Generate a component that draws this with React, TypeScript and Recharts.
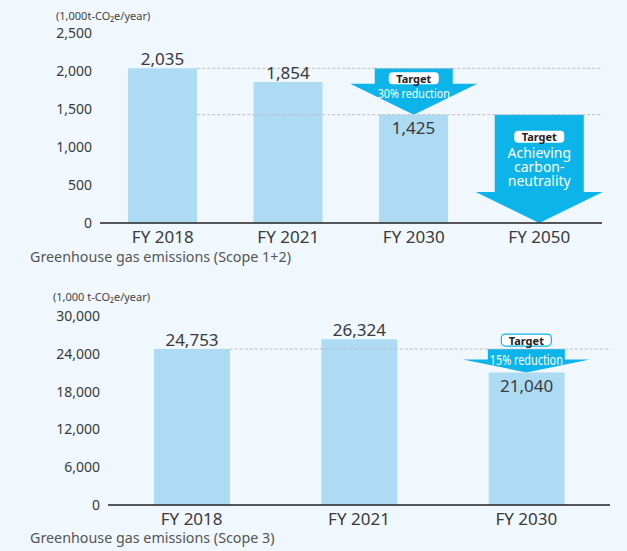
import React from 'react';
import {
  BarChart, Bar, XAxis, YAxis, ReferenceLine, ReferenceArea, LabelList,
} from 'recharts';

const scope12Years = ['FY 2018', 'FY 2021', 'FY 2030', 'FY 2050'];
const scope12Values: (number | null)[] = [2035, 1854, 1425, null];
const scope12Ticks = [0, 500, 1000, 1500, 2000, 2500];

const scope3Years = ['FY 2018', 'FY 2021', 'FY 2030'];
const scope3Values = [24753, 26324, 21040];
const scope3Ticks = [0, 6000, 12000, 18000, 24000, 30000];

const FONT = '"Noto Sans", "Open Sans", sans-serif';
const BG = '#f0f7fd';
const BAR = '#aedbf4';
const ARROW = '#0cb4ea';
const TEXT = '#3a3a3a';

const scope12Data = scope12Years.map((year, i) => ({ year, value: scope12Values[i] }));
const scope3Data = scope3Years.map((year, i) => ({ year, value: scope3Values[i] }));

type ArrowCfg = {
  shaftWidth: number;
  headWidth: number;
  headHeight: number;
  pillDy: number;
  pillOutline?: boolean;
  lines: string[];
  textDy: number;
  lineGap: number;
  fontSize: number;
  textWidth?: number;
};

const TargetArrow = ({ x, y, width, height, cfg }: any) => {
  const c: ArrowCfg = cfg;
  const cx = x + width / 2;
  const bottom = y + height;
  const headTop = bottom - c.headHeight;
  const sw = c.shaftWidth / 2;
  const hw = c.headWidth / 2;
  const pts = [
    [cx - sw, y], [cx + sw, y], [cx + sw, headTop], [cx + hw, headTop],
    [cx, bottom], [cx - hw, headTop], [cx - sw, headTop],
  ].map(p => p.join(',')).join(' ');
  return (
    <g>
      <polygon points={pts} fill={ARROW} />
      <rect
        x={cx - 25} y={y + c.pillDy - 6} width={50} height={12} rx={4}
        fill="#fff" stroke={c.pillOutline ? ARROW : 'none'} strokeWidth={1.2}
      />
      <text x={cx} y={y + c.pillDy} textAnchor="middle" dominantBaseline="central"
        fontSize={11} fontWeight={700} fill="#222" fontFamily={FONT}>Target</text>
      {c.lines.length === 1 ? (
        <text x={cx} y={y + c.textDy} textAnchor="middle" dominantBaseline="central"
          fontSize={c.fontSize} fill="#fff" fontFamily={FONT}
          textLength={c.textWidth} lengthAdjust="spacingAndGlyphs">{c.lines[0]}</text>
      ) : (
        <text x={cx} y={y + c.textDy} textAnchor="middle" dominantBaseline="central"
          fontSize={c.fontSize} fill="#fff" fontFamily={FONT}>
          {c.lines.map((line, i) => (
            <tspan key={i} x={cx} dy={i === 0 ? 0 : c.lineGap}>{line}</tspan>
          ))}
        </text>
      )}
    </g>
  );
};

const DashedGuide = ({ x1, y1, x2, count, barSize }: any) => {
  const band = (x2 - x1) / (count - 1);
  return (
    <line x1={x1 + barSize / 2} y1={y1} x2={x2 + band / 2} y2={y1}
      stroke="#bdbdbd" strokeDasharray="3 2" strokeWidth={1} />
  );
};

const makeLabel = (insideIndex: number) => (props: any) => {
  const { x, y, width, value, index } = props;
  if (value == null) return null;
  const inside = index === insideIndex;
  return (
    <text x={x + width / 2} y={inside ? y + 13 : y - 10} textAnchor="middle"
      dominantBaseline="central" fontSize={17} fill={TEXT} fontFamily={FONT}>
      {Number(value).toLocaleString('en-US')}
    </text>
  );
};

const App: React.FC = () => {
  const tickStyle = { fill: TEXT, fontSize: 14, fontFamily: FONT };
  const xTickStyle = { fill: TEXT, fontSize: 17, fontFamily: FONT };

  const arrow1: ArrowCfg = {
    shaftWidth: 78, headWidth: 127, headHeight: 31, pillDy: 10,
    lines: ['30% reduction'], textDy: 25, lineGap: 0, fontSize: 13, textWidth: 72,
  };
  const arrow2: ArrowCfg = {
    shaftWidth: 89, headWidth: 127, headHeight: 31, pillDy: 22,
    lines: ['Achieving', 'carbon-', 'neutrality'], textDy: 37, lineGap: 14, fontSize: 14,
  };
  const arrow3: ArrowCfg = {
    shaftWidth: 77, headWidth: 127, headHeight: 13, pillDy: -9, pillOutline: true,
    lines: ['15% reduction'], textDy: 10, lineGap: 0, fontSize: 14, textWidth: 73,
  };

  return (
    <div style={{ position: 'absolute', left: 0, top: 0, width: 627, height: 551, background: BG, fontFamily: FONT }}>
      <style>{'body{margin:0}'}</style>

      <div style={{ position: 'absolute', left: 56, top: 9, fontSize: 11, color: '#444', lineHeight: '14px' }}>
        (1,000t-CO₂e/year)
      </div>
      <div style={{ position: 'absolute', left: 0, top: 0 }}>
        <BarChart width={627} height={250} data={scope12Data}
          margin={{ top: 33, right: 25, left: 0, bottom: 0 }}>
          <XAxis dataKey="year" height={27} tickLine={false} interval={0}
            axisLine={{ stroke: '#222', strokeWidth: 1.5 }} tick={xTickStyle} />
          <YAxis width={100} domain={[0, 2500]} ticks={scope12Ticks} interval={0}
            tickLine={false} axisLine={false} tick={tickStyle}
            tickFormatter={v => Number(v).toLocaleString('en-US')} />
          <ReferenceLine
            segment={[{ x: scope12Years[0], y: scope12Values[0] }, { x: scope12Years[3], y: scope12Values[0] }]}
            shape={(p: any) => <DashedGuide {...p} count={4} barSize={69} />} />
          <ReferenceLine
            segment={[{ x: scope12Years[0], y: scope12Values[2] }, { x: scope12Years[3], y: scope12Values[2] }]}
            shape={(p: any) => <DashedGuide {...p} count={4} barSize={69} />} />
          <Bar dataKey="value" fill={BAR} barSize={69} isAnimationActive={false}>
            <LabelList dataKey="value" content={makeLabel(2)} />
          </Bar>
          <ReferenceArea x1={scope12Years[2]} x2={scope12Years[2]}
            y1={scope12Values[0] as number} y2={scope12Values[2] as number}
            ifOverflow="visible"
            shape={(p: any) => <TargetArrow {...p} cfg={arrow1} />} />
          <ReferenceArea x1={scope12Years[3]} x2={scope12Years[3]}
            y1={scope12Values[2] as number} y2={0}
            ifOverflow="visible"
            shape={(p: any) => <TargetArrow {...p} cfg={arrow2} />} />
        </BarChart>
      </div>
      <div style={{ position: 'absolute', left: 30, top: 249, fontSize: 14.3, color: '#555', lineHeight: '16px' }}>
        Greenhouse gas emissions (Scope 1+2)
      </div>

      <div style={{ position: 'absolute', left: 53, top: 290, fontSize: 11, color: '#444', lineHeight: '14px' }}>
        (1,000 t-CO₂e/year)
      </div>
      <div style={{ position: 'absolute', left: 0, top: 270 }}>
        <BarChart width={627} height={262} data={scope3Data}
          margin={{ top: 46, right: 17, left: 0, bottom: 0 }}>
          <XAxis dataKey="year" height={27} tickLine={false} interval={0}
            axisLine={{ stroke: '#222', strokeWidth: 1.5 }} tick={xTickStyle} />
          <YAxis width={108} domain={[0, 30000]} ticks={scope3Ticks} interval={0}
            tickLine={false} axisLine={false} tick={tickStyle}
            tickFormatter={v => Number(v).toLocaleString('en-US')} />
          <ReferenceLine
            segment={[{ x: scope3Years[0], y: scope3Values[0] }, { x: scope3Years[2], y: scope3Values[0] }]}
            shape={(p: any) => <DashedGuide {...p} count={3} barSize={76} />} />
          <Bar dataKey="value" fill={BAR} barSize={76} isAnimationActive={false}>
            <LabelList dataKey="value" content={makeLabel(2)} />
          </Bar>
          <ReferenceArea x1={scope3Years[2]} x2={scope3Years[2]}
            y1={scope3Values[0]} y2={scope3Values[2]}
            ifOverflow="visible"
            shape={(p: any) => <TargetArrow {...p} cfg={arrow3} />} />
        </BarChart>
      </div>
      <div style={{ position: 'absolute', left: 30, top: 530, fontSize: 14.3, color: '#555', lineHeight: '16px' }}>
        Greenhouse gas emissions (Scope 3)
      </div>
    </div>
  );
};

export default App;
